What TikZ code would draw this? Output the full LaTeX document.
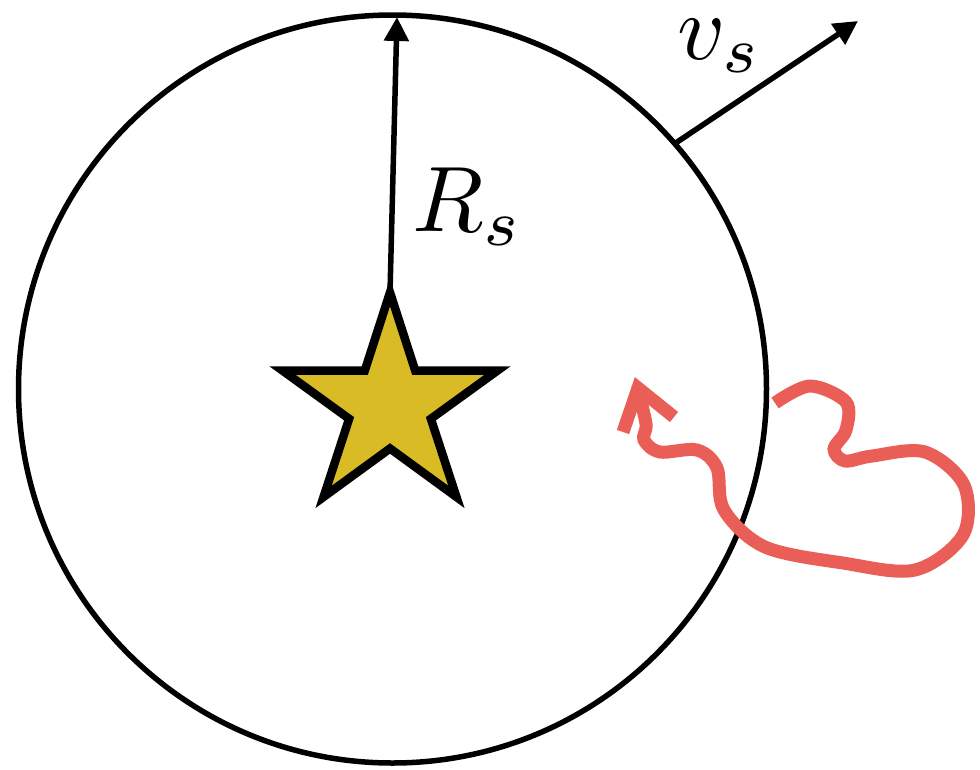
\documentclass[tikz,border=0pt]{standalone}
\usetikzlibrary{shapes.geometric,arrows.meta}
\definecolor{stargold}{RGB}{217,188,37}
\definecolor{pathred}{RGB}{234,94,88}
\begin{document}
\begin{tikzpicture}[x=1pt,y=-1pt,
  blackarrow/.style={line width=5.5pt,-{Triangle[length=24pt,width=24pt]}},
  bigmath/.style={scale=9.3, inner sep=0pt},
  redpath/.style={draw=pathred, line width=13pt}]
\useasboundingbox (0,0) rectangle (980,769);
% shell
\node[circle, draw, line width=5.5pt, minimum size=748pt, inner sep=0pt, outer sep=0pt] (shell) at (392.5,389) {};
% star
\node[star, star points=5, star point ratio=2.63, draw, line width=8.5pt, fill=stargold,
      minimum size=226pt, inner sep=0pt, outer sep=0pt] (starnode) at (390,405.5) {};
% radius arrow
\coordinate (rtop) at (397,17);
\draw[blackarrow] (starnode.outer point 1) -- (rtop);
\node[bigmath] (rlabel) at (468,207) {$R_s$};
% velocity arrow
\coordinate (vtip) at (858,21);
\draw[blackarrow] (shell.41) -- (vtip);
\node[bigmath] (vlabel) at (720,46) {$v_s$};
% red wandering path
\draw[redpath, line cap=butt] plot[smooth, tension=0.55] coordinates {
  (775,403) (810,386) (846,402) (846,430) (834,449) (845,461)
  (872,456) (925,452) (964,485) (963,535) (915,570)
  (843,563) (765,547) (724,510) (717,468) (697,450) (660,452)
  (644,440) (646,424) (638,390)};
\draw[redpath, line cap=butt, line join=miter] (623,432) -- (638,388) -- (674,417);
\end{tikzpicture}
\end{document}
